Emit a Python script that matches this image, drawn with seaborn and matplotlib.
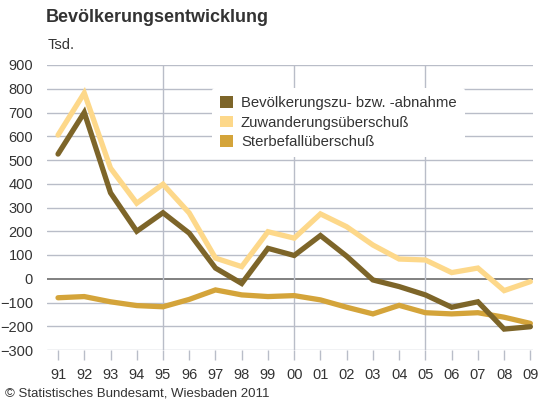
"""Bevoelkerungsentwicklung 1991-2009, Linien je Komponente."""

import matplotlib

matplotlib.use("Agg")
import matplotlib.pyplot as plt
import pandas as pd
import seaborn as sns
from matplotlib.patches import Patch

sns.set_theme(style="white")
plt.rcParams["font.family"] = ["Liberation Sans", "DejaVu Sans"]

years = ["91", "92", "93", "94", "95", "96", "97", "98", "99", "00",
         "01", "02", "03", "04", "05", "06", "07", "08", "09"]
bevoelkerung = [525, 700, 362, 200, 278, 192, 45, -20, 128, 98,
                182, 95, -5, -33, -68, -120, -97, -212, -202]
zuwanderung = [605, 782, 466, 318, 398, 277, 87, 51, 198, 171,
               273, 219, 142, 83, 79, 26, 45, -50, -12]
sterbefall = [-80, -75, -97, -113, -118, -87, -47, -68, -75, -71,
              -89, -120, -148, -112, -143, -148, -143, -162, -188]

labels = ["Bevölkerungszu- bzw. -abnahme", "Zuwanderungsüberschuß", "Sterbefallüberschuß"]
colors = ["#7d6529", "#fdd88a", "#d4a43a"]
yticks = list(range(-300, 901, 100))

df = pd.DataFrame({"idx": range(len(years)), labels[0]: bevoelkerung,
                   labels[1]: zuwanderung, labels[2]: sterbefall})

fig = plt.figure(figsize=(5.41, 4.01), dpi=100)
ax = fig.add_axes([47 / 541, 1 - 350 / 401, (533 - 47) / 541, 285 / 401])

grid_color = "#b9bdc8"
for y in yticks:
    ax.axhline(y, color="#6b6b6b" if y == 0 else grid_color, lw=1.2 if y == 0 else 1.0, zorder=1)
for i in (4, 9, 14):
    ax.axvline(i, color=grid_color, lw=1.0, zorder=1)

# Reihenfolge: hell unten, dunkel oben
for name, col in [(labels[1], colors[1]), (labels[2], colors[2]), (labels[0], colors[0])]:
    sns.lineplot(data=df, x="idx", y=name, color=col, lw=3.8, ax=ax, zorder=3,
                 solid_joinstyle="miter")

ax.set_xlim(-0.42, 18.1)
ax.set_ylim(-300, 900)
ax.set_xticks(range(len(years)))
ax.set_xticklabels(years)
ax.set_yticks(yticks)
ax.tick_params(axis="x", direction="out", length=7, width=1, color=grid_color,
               labelsize=10.5, labelcolor="#333333", pad=6, bottom=True)
ax.tick_params(axis="y", length=0, labelsize=10.5, labelcolor="#333333", pad=10)
ax.set_xlabel("")
ax.set_ylabel("")
for s in ax.spines.values():
    s.set_visible(False)

handles = [Patch(facecolor=c, edgecolor="none") for c in colors]
leg = ax.legend(handles, labels, loc="upper left",
                bbox_to_anchor=(212 / 541, 1 - 88 / 401), bbox_transform=fig.transFigure,
                borderaxespad=0, borderpad=0.55, handlelength=0.85, handleheight=0.85,
                handletextpad=0.55, labelspacing=0.36, fontsize=10.7,
                frameon=True, facecolor="white", edgecolor="none", framealpha=1)
leg.set_zorder(2)
for t in leg.get_texts():
    t.set_color("#333333")

fig.text(46 / 541, 1 - 18 / 401, "Bevölkerungsentwicklung", fontsize=13, fontweight="bold",
         color="#333333", va="center", ha="left")
fig.text(48 / 541, 1 - 45 / 401, "Tsd.", fontsize=10.5, color="#333333", va="center", ha="left")
fig.text(5 / 541, 1 - 394 / 401, "© Statistisches Bundesamt, Wiesbaden 2011", fontsize=9.5,
         color="#333333", va="center", ha="left")

fig.savefig("out.png", dpi=100)
